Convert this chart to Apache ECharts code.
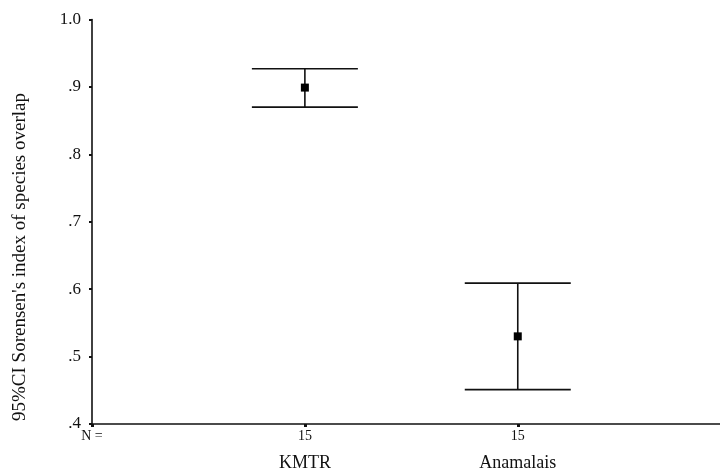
<!DOCTYPE html>
<html>
<head>
<meta charset="utf-8">
<script src="https://cdn.jsdelivr.net/npm/echarts@6/dist/echarts.min.js"></script>
<style>
  html, body { margin: 0; padding: 0; background: #fff; }
  #chart { width: 720px; height: 472px; }
</style>
</head>
<body>
<div id="chart"></div>
<script>
// Groups, sample sizes and 95% confidence intervals of Sorensen's index
const groups = ['KMTR', 'Anamalais'];
const sampleSizes = [15, 15];
const means = [0.899, 0.530];
const lowerCI = [0.870, 0.451];
const upperCI = [0.927, 0.609];
const yTicks = [0.4, 0.5, 0.6, 0.7, 0.8, 0.9, 1.0];

const FONT = "'Liberation Serif', 'Times New Roman', serif";
const INK = '#111';

// Groups sit at x = 1, 2 on a numeric axis; x = 0 carries the "N =" caption
const barData = groups.map((g, i) => [i + 1, lowerCI[i], upperCI[i], means[i]]);

function renderErrorBar(params, api) {
  const x = api.value(0);
  const lo = api.coord([x, api.value(1)]);
  const hi = api.coord([x, api.value(2)]);
  const mid = api.coord([x, api.value(3)]);
  const half = 53;
  const line = { stroke: INK, lineWidth: 1.6 };
  return {
    type: 'group',
    children: [
      { type: 'line', shape: { x1: hi[0], y1: hi[1], x2: lo[0], y2: lo[1] }, style: line },
      { type: 'line', shape: { x1: hi[0] - half, y1: hi[1], x2: hi[0] + half, y2: hi[1] }, style: line },
      { type: 'line', shape: { x1: lo[0] - half, y1: lo[1], x2: lo[0] + half, y2: lo[1] }, style: line },
      { type: 'rect', shape: { x: mid[0] - 4, y: mid[1] - 4, width: 8, height: 8 }, style: { fill: '#000' } }
    ]
  };
}

const chart = echarts.init(document.getElementById('chart'), null, { renderer: 'canvas' });
chart.setOption({
  animation: false,
  backgroundColor: '#fff',
  grid: { left: 92, right: 0, top: 19.5, bottom: 47, containLabel: false },
  xAxis: [
    {
      type: 'value', min: 0, max: 2.95, interval: 1,
      splitLine: { show: false },
      axisLine: { show: true, lineStyle: { color: INK, width: 1.6 } },
      axisTick: { show: true, inside: false, length: 3, lineStyle: { color: INK, width: 3 } },
      axisLabel: {
        margin: 5, fontFamily: FONT, fontSize: 14, color: INK, showMaxLabel: false,
        formatter: v => v === 0 ? 'N =' : (sampleSizes[v - 1] != null ? String(sampleSizes[v - 1]) : '')
      }
    },
    {
      type: 'value', min: 0, max: 2.95, interval: 1, position: 'bottom',
      splitLine: { show: false },
      axisLine: { show: false }, axisTick: { show: false },
      axisLabel: {
        margin: 30, fontFamily: FONT, fontSize: 18, color: INK, showMaxLabel: false,
        formatter: v => groups[v - 1] || ''
      }
    }
  ],
  yAxis: {
    type: 'value', min: yTicks[0], max: yTicks[yTicks.length - 1], interval: 0.1,
    splitLine: { show: false },
    axisLine: { show: true, lineStyle: { color: INK, width: 1.6 } },
    axisTick: { show: true, inside: false, length: 3, lineStyle: { color: INK, width: 2 } },
    axisLabel: {
      margin: 11, fontFamily: FONT, fontSize: 17, color: INK,
      formatter: v => v >= 0.999 ? '1.0' : '.' + Math.round(v * 10)
    }
  },
  graphic: [
    {
      type: 'text', x: 20, y: 257, rotation: Math.PI / 2,
      style: {
        text: "95%CI Sorensen's index of species overlap",
        fontFamily: FONT, fontSize: 19, fill: INK,
        align: 'center', verticalAlign: 'middle'
      }
    }
  ],
  series: [
    {
      type: 'custom', xAxisIndex: 0, yAxisIndex: 0,
      renderItem: renderErrorBar,
      encode: { x: 0, y: [1, 2, 3] },
      data: barData
    }
  ]
});
</script>
</body>
</html>
